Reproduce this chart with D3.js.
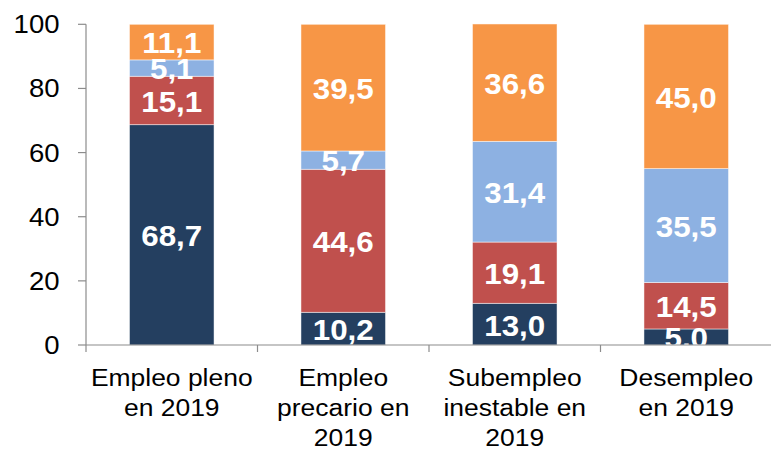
<!DOCTYPE html>
<html>
<head>
<meta charset="utf-8">
<script src="https://cdn.jsdelivr.net/npm/d3@7"></script>
<style>
  html, body { margin: 0; padding: 0; background: #fff; }
  svg { display: block; }
  text { font-family: "Liberation Sans", Arial, sans-serif; }
</style>
</head>
<body>
<svg id="chart" width="771" height="449"></svg>
<script>
// Categories (multi-line axis labels)
const categories = ["Empleo pleno en 2019", "Empleo precario en 2019", "Subempleo inestable en 2019", "Desempleo en 2019"];
const categoryLines = [
  ["Empleo pleno", "en 2019"],
  ["Empleo", "precario en", "2019"],
  ["Subempleo", "inestable en", "2019"],
  ["Desempleo", "en 2019"]
];

// Stacked series, bottom to top
const seriesNames = ["s1", "s2", "s3", "s4"];
const s1 = [68.7, 10.2, 13.0, 5.0];
const s2 = [15.1, 44.6, 19.1, 14.5];
const s3 = [5.1, 5.7, 31.4, 35.5];
const s4 = [11.1, 39.5, 36.6, 45.0];
const seriesColors = ["#243F60", "#C0504D", "#8DB1E2", "#F79646"];

const yTicks = [0, 20, 40, 60, 80, 100];

// Layout
const W = 771, H = 449;
const x0 = 86, x1 = 772, yTop = 24.3, yBottom = 345;
const sx = 1.08; // horizontal text stretch

const svg = d3.select("#chart");

const rows = categories.map((c, i) => ({ cat: c, s1: s1[i], s2: s2[i], s3: s3[i], s4: s4[i] }));
const stack = d3.stack().keys(seriesNames)(rows);

const x = d3.scaleBand().domain(categories).range([x0, x1]).paddingInner(0.507).paddingOuter(0.2535);
const y = d3.scaleLinear().domain([0, 100]).range([yBottom, yTop]);

// Clip for labels inside the plot area
svg.append("defs").append("clipPath").attr("id", "plotClip")
  .append("rect").attr("x", x0).attr("y", 0).attr("width", x1 - x0).attr("height", yBottom);

// Bars
const layers = svg.append("g").selectAll("g").data(stack).join("g")
  .attr("fill", (d, i) => seriesColors[i]);
layers.selectAll("rect").data(d => d).join("rect")
  .attr("x", d => x(d.data.cat))
  .attr("width", x.bandwidth())
  .attr("y", d => y(d[1]))
  .attr("height", d => y(d[0]) - y(d[1]))
  .attr("stroke", "#ffffff")
  .attr("stroke-opacity", 0.6)
  .attr("stroke-width", 0.8);

// Value labels
const labelG = svg.append("g").attr("clip-path", "url(#plotClip)");
stack.forEach(layer => {
  layer.forEach(d => {
    const v = d[1] - d[0];
    const cx = x(d.data.cat) + x.bandwidth() / 2;
    const cy = (y(d[0]) + y(d[1])) / 2 + 1;
    labelG.append("text")
      .attr("transform", `translate(${cx},${cy + 29 * 0.358}) scale(${sx},1)`)
      .attr("text-anchor", "middle")
      .attr("fill", "#ffffff")
      .attr("font-weight", "bold")
      .attr("font-size", 29)
      .text(d3.format(".1f")(v).replace(".", ","));
  });
});

// Y axis
const axisColor = "#8C8C8C";
const yAxis = svg.append("g");
yAxis.append("line").attr("x1", x0).attr("x2", x0).attr("y1", y(100)).attr("y2", yBottom)
  .attr("stroke", axisColor).attr("stroke-width", 1.2);
yAxis.selectAll("line.tick").data(yTicks).join("line").attr("class", "tick")
  .attr("x1", x0 - 8).attr("x2", x0).attr("y1", d => y(d)).attr("y2", d => y(d))
  .attr("stroke", axisColor).attr("stroke-width", 1.2);
yAxis.selectAll("text").data(yTicks).join("text")
  .attr("transform", d => `translate(59.5,${y(d) + 25 * 0.358}) scale(${sx},1)`)
  .attr("text-anchor", "end")
  .attr("font-size", 25.5)
  .attr("fill", "#000")
  .text(d => d);

// X axis
const xAxis = svg.append("g");
xAxis.append("line").attr("x1", x0).attr("x2", W).attr("y1", yBottom).attr("y2", yBottom)
  .attr("stroke", axisColor).attr("stroke-width", 1.2);
const step = x.step();
const boundaries = d3.range(categories.length + 1).map(i => x0 + i * step);
xAxis.selectAll("line.tick").data(boundaries).join("line").attr("class", "tick")
  .attr("x1", d => d).attr("x2", d => d).attr("y1", yBottom).attr("y2", yBottom + 7)
  .attr("stroke", axisColor).attr("stroke-width", 1.2);
categories.forEach((c, i) => {
  const cx = x(c) + x.bandwidth() / 2;
  categoryLines[i].forEach((line, j) => {
    xAxis.append("text")
      .attr("transform", `translate(${cx},${385.7 + j * 30.2}) scale(${sx},1)`)
      .attr("text-anchor", "middle")
      .attr("font-size", 24.5)
      .attr("fill", "#000")
      .text(line);
  });
});
</script>
</body>
</html>
